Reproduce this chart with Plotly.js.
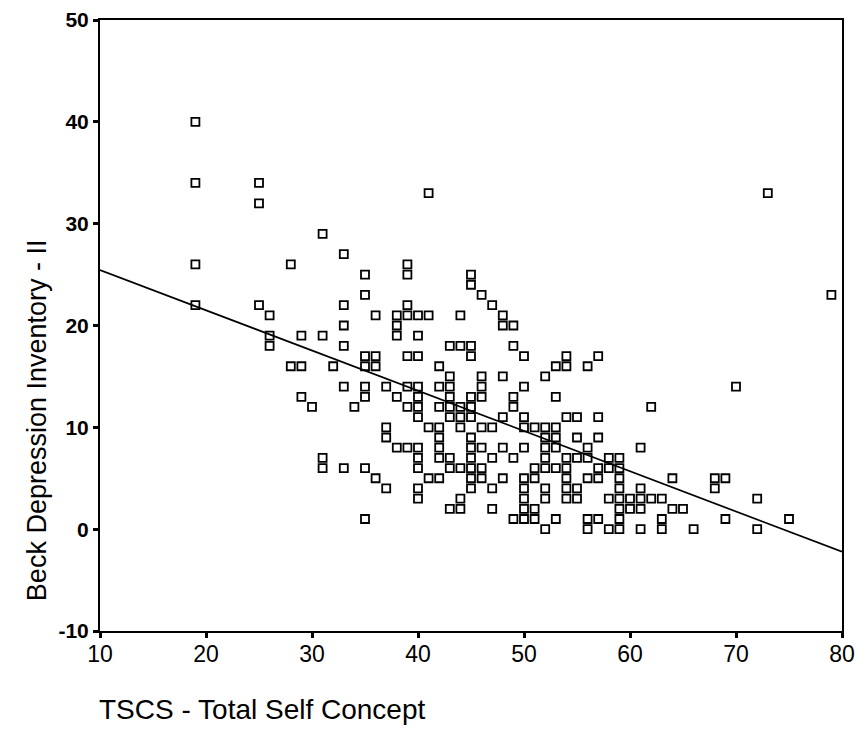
<!DOCTYPE html>
<html>
<head>
<meta charset="utf-8">
<script src="https://cdn.plot.ly/plotly-3.0.1.min.js"></script>
<style>
html,body{margin:0;padding:0;background:#fff;}
#chart{width:856px;height:736px;}
</style>
</head>
<body>
<div id="chart"></div>
<script>
// TSCS - Total Self Concept (x) and Beck Depression Inventory - II (y)
const tscs = [
 19,19,19,19,
 25,25,25,
 26,26,26,
 28,28,
 29,29,29,
 30,
 31,31,31,31,
 32,
 33,33,33,33,33,33,
 34,
 35,35,35,35,35,35,35,35,
 36,36,36,36,
 37,37,37,37,
 38,38,38,38,38,
 39,39,39,39,39,39,39,39,
 40,40,40,40,40,40,40,40,40,40,40,40,
 41,41,41,41,
 42,42,42,42,42,42,42,42,
 43,43,43,43,43,43,43,43,43,
 44,44,44,44,44,44,44,44,
 45,45,45,45,45,45,45,45,45,45,45,45,45,
 46,46,46,46,46,46,46,46,
 47,47,47,47,47,
 48,48,48,48,48,48,
 49,49,49,49,49,49,
 50,50,50,50,50,50,50,50,50,50,
 51,51,51,51,51,
 52,52,52,52,52,52,52,52,52,
 53,53,53,53,53,53,53,
 54,54,54,54,54,54,54,54,
 55,55,55,55,55,
 56,56,56,56,56,56,
 57,57,57,57,57,57,
 58,58,58,58,
 59,59,59,59,59,59,59,59,
 60,60,
 61,61,61,61,61,
 62,62,
 63,63,63,
 64,64,
 65,
 66,
 68,68,
 69,69,
 70,
 72,72,
 73,
 75,
 79
];
const bdi = [
 40,34,26,22,
 34,32,22,
 21,19,18,
 26,16,
 19,16,13,
 12,
 29,19,7,6,
 16,
 27,22,20,18,14,6,
 12,
 25,23,17,16,14,13,6,1,
 21,17,16,5,
 14,10,9,4,
 21,20,19,13,8,
 26,25,22,21,17,14,12,8,
 21,19,17,14,13,12,11,8,7,6,4,3,
 33,21,10,5,
 16,14,12,10,9,8,7,5,
 18,15,14,13,12,11,7,6,2,
 21,18,12,11,10,6,3,2,
 25,24,18,17,13,12,11,9,8,7,6,5,4,
 23,15,14,13,10,8,6,5,
 22,10,7,4,2,
 21,20,15,11,8,5,
 20,18,13,12,7,1,
 17,14,11,10,8,5,4,3,2,1,
 10,6,5,2,1,
 15,10,9,8,7,6,4,3,0,
 16,13,10,9,8,6,1,
 17,16,11,7,6,5,4,3,
 11,9,7,4,3,
 16,8,7,5,1,0,
 17,11,9,6,5,1,
 7,6,3,0,
 7,6,5,4,3,2,1,0,
 3,2,
 8,4,3,2,0,
 12,3,
 3,1,0,
 5,2,
 2,
 0,
 5,4,
 5,1,
 14,
 3,0,
 33,
 1,
 23
];
const xRange = [10, 80];
const yRange = [-10, 50];
const xTicks = [10,20,30,40,50,60,70,80];
const yTicks = [-10,0,10,20,30,40,50];
const xTitle = "TSCS - Total Self Concept";
const yTitle = "Beck Depression Inventory - II";

// least-squares fit line from the data
const n = tscs.length;
const mx = tscs.reduce((a,b)=>a+b,0)/n;
const my = bdi.reduce((a,b)=>a+b,0)/n;
let sxy=0, sxx=0;
for(let i=0;i<n;i++){ sxy+=(tscs[i]-mx)*(bdi[i]-my); sxx+=(tscs[i]-mx)*(tscs[i]-mx); }
const slope = sxy/sxx;
const intercept = my - slope*mx;
const fitX = xRange.slice();
const fitY = fitX.map(v=>intercept+slope*v);

const traces = [
 {x: fitX, y: fitY, type:'scatter', mode:'lines', line:{color:'#000', width:1.7}, hoverinfo:'skip', showlegend:false},
 {x: tscs, y: bdi, type:'scatter', mode:'markers',
  marker:{symbol:'square-open', size:8, color:'#000', line:{color:'#000', width:1.8}}, showlegend:false}
];

const layout = {
 width:856, height:736,
 margin:{l:100, r:14, t:20, b:105},
 paper_bgcolor:'#fff', plot_bgcolor:'#fff',
 showlegend:false,
 xaxis:{range:xRange, tickvals:xTicks, ticktext:xTicks.map(String), showgrid:false, zeroline:false,
   showline:true, linecolor:'#000', linewidth:2, mirror:true,
   ticks:'outside', ticklen:5, tickwidth:3, tickcolor:'#000', ticklabelstandoff:-4,
   tickfont:{family:'Liberation Sans Narrow, Liberation Sans, Arial', size:23, color:'#000'}},
 yaxis:{range:yRange, tickvals:yTicks, ticktext:yTicks.map(String), showgrid:false, zeroline:false,
   showline:true, linecolor:'#000', linewidth:2, mirror:true,
   ticks:'outside', ticklen:5, tickwidth:3, tickcolor:'#000',
   tickfont:{family:'Liberation Sans, Arial', size:21, color:'#000', weight:'bold'}},
 annotations:[
  {text:xTitle, xref:'paper', yref:'paper', x:-0.004, y:-0.1, xanchor:'left', yanchor:'top', showarrow:false,
   font:{family:'Liberation Sans, Arial', size:28, color:'#000'}},
  {text:yTitle, xref:'paper', yref:'paper', x:-0.085, y:0.345, xanchor:'center', yanchor:'middle', textangle:-90, showarrow:false,
   font:{family:'Liberation Sans, Arial', size:27, color:'#000'}}
 ]
};
Plotly.newPlot('chart', traces, layout, {displayModeBar:false, staticPlot:true});
</script>
</body>
</html>
